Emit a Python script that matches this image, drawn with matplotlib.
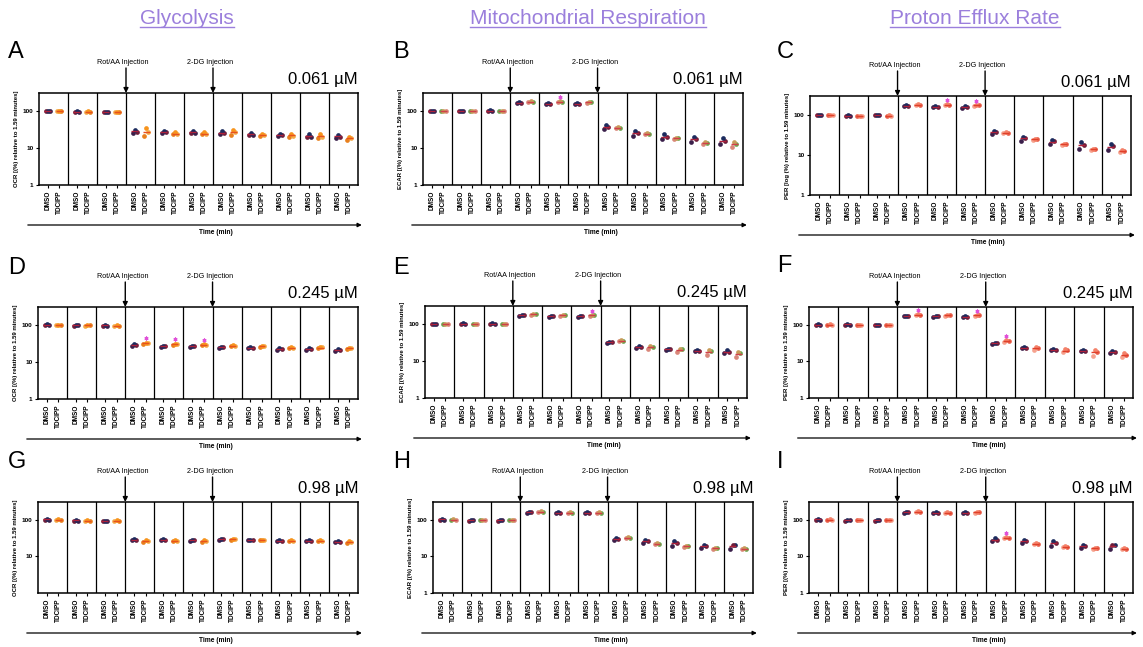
import numpy as np
import matplotlib
matplotlib.use("Agg")
import matplotlib.pyplot as plt
from matplotlib.lines import Line2D

plt.rcParams['font.family'] = ['Liberation Sans', 'DejaVu Sans']

W, H = 1143, 647

# data: 11 time points, 3 replicates each, % of first measurement
conditions = ["DMSO", "TDCIPP"]
section_titles = ["Glycolysis", "Mitochondrial Respiration", "Proton Efflux Rate"]
concentrations = ["0.061 µM", "0.245 µM", "0.98 µM"]

ocr_061_dmso = [(101, 99, 100), (96, 94, 95), (93, 91, 92), (31, 27, 25), (28, 26, 25), (28, 25, 25),
                (28, 25, 24), (25, 22, 22), (24, 22, 21), (23, 20, 20), (22, 20, 19)]
ocr_061_tdcipp = [(101, 99, 100), (96, 94, 95), (94, 92, 93), (34, 27, 21), (26, 24, 23), (26, 24, 23),
                  (31, 27, 22), (24, 22, 21), (24, 21, 20), (23, 20, 19), (20, 19, 16.5)]
ecar_061_dmso = [(101, 99, 100), (98, 96, 97), (102, 99, 100), (172, 166, 160), (160, 154, 148), (160, 154, 148),
                 (40, 37, 32), (28, 25, 20.5), (23, 20, 17), (20, 17, 14), (18, 15, 13)]
ecar_061_tdcipp = [(101, 99, 100), (98, 96, 97), (98, 96, 97), (182, 177, 172), (182, 177, 172), (175, 170, 165),
                   (37, 35, 34), (25, 24, 23), (19, 18, 17.5), (14, 13.5, 13), (14, 12.5, 10.6)]
per_061_dmso = [(101, 99, 100), (98, 96, 97), (102, 99, 100), (176, 170, 164), (166, 161, 156), (166, 160, 150),
                (41, 37, 33), (29, 26, 23), (24, 22, 18.5), (21, 18, 14.5), (18.5, 16.5, 13)]
per_061_tdcipp = [(101, 99, 100), (97, 95, 96), (98, 96, 97), (185, 181, 177), (185, 181, 177), (178, 174, 170),
                  (37, 36, 35), (25, 24.5, 24), (19, 18.4, 18), (14, 13.8, 13.5), (13.5, 12.5, 11.8)]

ocr_245_dmso = [(102, 99, 100), (98, 95, 96), (97, 94, 95), (29.5, 28, 27.5), (27.5, 26.5, 25.5), (27, 26, 25.5),
                (25.5, 24.5, 23.5), (25, 24, 23), (23.5, 22.5, 21.5), (23.5, 22.5, 21), (22, 21, 19.5)]
ocr_245_tdcipp = [(101, 99, 100), (97, 95, 96), (96, 94, 95), (33, 32, 31), (31, 30, 29), (30, 29, 28),
                  (28, 27, 26), (27, 26, 25), (25, 24, 23), (25, 24.5, 23.5), (24, 23.5, 22.5)]
ecar_245_dmso = [(101, 99, 100), (102, 99, 100), (102, 99, 100), (176, 170, 165), (162, 157, 152), (162, 157, 152),
                 (33, 32, 31), (24.5, 23.5, 22.5), (21, 20.5, 19.5), (20, 19, 18), (19.5, 17.3, 16)]
ecar_245_tdcipp = [(101, 99, 100), (98, 96, 97), (98, 96, 97), (186, 180, 175), (172, 167, 162), (172, 167, 162),
                   (36, 34.5, 33.5), (25, 23, 21), (21, 20.3, 17.3), (20, 18.3, 14.1), (17.3, 16, 12.8)]
per_245_dmso = [(101, 99, 100), (102, 99, 100), (100, 97, 98), (176, 171, 166), (172, 167, 162), (166, 161, 156),
                (32, 31, 30), (24, 23.5, 22.5), (21.5, 20.7, 20), (20, 19.4, 18.5), (19, 18, 16.5)]
per_245_tdcipp = [(101, 99, 100), (97, 95, 96), (97, 95, 96), (190, 186, 182), (183, 178, 174), (183, 178, 174),
                  (37, 35, 33), (25, 22.5, 20), (21, 20.3, 17.5), (20.3, 18.3, 14), (16.5, 15.2, 12.8)]

ocr_98_dmso = [(102, 99, 100), (96, 93, 94), (94, 91, 92), (29, 28, 27), (29, 28, 27), (28.5, 27.5, 26.5),
               (30, 29.3, 28.5), (28.5, 27.6, 27), (27, 26.4, 25.5), (27, 26.4, 25.5), (25.5, 24.8, 24)]
ocr_98_tdcipp = [(101, 99, 100), (95, 93, 94), (95, 92, 93), (27, 25.8, 24.5), (27.5, 26.4, 25.5), (27, 25.8, 24.5),
                 (30, 29.3, 28.5), (28.5, 27.6, 27), (27, 26.4, 25.5), (27, 26.4, 25.5), (25.5, 24.4, 23.5)]
ecar_98_dmso = [(102, 99, 100), (97, 94, 95), (97, 94, 95), (162, 158, 154), (159, 155, 151), (159, 155, 151),
                (31.6, 29, 28.5), (28.5, 25.6, 23), (25.6, 23, 19.5), (20.8, 18.7, 16.9), (20.8, 20.8, 15.8)]
ecar_98_tdcipp = [(101, 99, 100), (99, 96, 97), (99, 96, 97), (169, 165, 161), (159, 155, 151), (159, 155, 151),
                  (33, 31.6, 30.5), (23, 22.2, 21.5), (19.3, 18.7, 18), (17, 16.5, 16), (16.3, 15.8, 15.3)]
per_98_dmso = [(102, 99, 100), (97, 94, 95), (97, 94, 95), (162, 158, 154), (159, 155, 151), (159, 155, 151),
               (31.6, 28.5, 25.6), (28.5, 25.6, 23), (25.6, 23, 19.5), (20.8, 18.7, 16.9), (20.8, 20.8, 15.8)]
per_98_tdcipp = [(101, 99, 100), (99, 96, 97), (99, 96, 97), (169, 165, 161), (159, 155, 151), (162, 158, 154),
                 (33, 31.6, 30.5), (23, 22.2, 21.5), (18.6, 18, 17.4), (17, 16.5, 16), (16.3, 15.8, 15.3)]

# time points (0-based) with a significant TDCIPP difference
stars_B = [4]
stars_C = [4, 5]
stars_D = [3, 4, 5]
stars_E = [5]
stars_F = [3, 5, 6]
stars_I = [6]

ylabels = {
    "ocr": "OCR [(%) relative to 1.59 minutes]",
    "ecar": "ECAR [(%) relative to 1.59 minutes]",
    "per": "PER [(%) relative to 1.59 minutes]",
    "per_log": "PER [log (%) relative to 1.59 minutes]",
}

dmso_cols = ['#1c2b5e', '#6b1d3a', '#3a1f4a']
tdcipp_cols = {
    "ocr": ['#f7941d', '#f3ac4a', '#e8801e'],
    "ecar": ['#c89b5a', '#6aa84f', '#d9877a'],
    "per": ['#f4826a', '#e8604c', '#f6a38f'],
}
mean_cols = {"ocr": '#e8501e', "ecar": '#d0404a', "per": '#e0402a'}

# panel letter, box (left, top, right, bottom) in pixels, data, kind, label, conc, stars, letter pos
panels = [
    ("A", (39, 93, 358, 185), ocr_061_dmso, ocr_061_tdcipp, "ocr", "ocr", 0, [], (8, 52)),
    ("B", (423, 93, 743, 185), ecar_061_dmso, ecar_061_tdcipp, "ecar", "ecar", 0, stars_B, (393, 52)),
    ("C", (810, 96, 1131, 195), per_061_dmso, per_061_tdcipp, "per", "per_log", 0, stars_C, (777, 52)),
    ("D", (38, 307, 358, 399), ocr_245_dmso, ocr_245_tdcipp, "ocr", "ocr", 1, stars_D, (8, 268)),
    ("E", (425, 306, 747, 398), ecar_245_dmso, ecar_245_tdcipp, "ecar", "ecar", 1, stars_E, (393, 268)),
    ("F", (809, 307, 1133, 398), per_245_dmso, per_245_tdcipp, "per", "per", 1, stars_F, (777, 266)),
    ("G", (38, 502, 358, 593), ocr_98_dmso, ocr_98_tdcipp, "ocr", "ocr", 2, [], (8, 462)),
    ("H", (433, 502, 753, 593), ecar_98_dmso, ecar_98_tdcipp, "ecar", "ecar", 2, [], (393, 462)),
    ("I", (809, 502, 1133, 593), per_98_dmso, per_98_tdcipp, "per", "per", 2, stars_I, (777, 462)),
]

fig = plt.figure(figsize=(W / 100, H / 100), dpi=100)

offsets = [-0.075, 0.075, 0.0]   # low, mid, high point positions (beeswarm look)

for letter, (l, t, r, b), dmso, tdc, kind, lab, ci, stars, (lx, ly) in panels:
    ax = fig.add_axes([l / W, 1 - b / H, (r - l) / W, (b - t) / H])
    n = len(dmso)
    for i in range(n):
        for j, (vals, cols, mcol) in enumerate([(dmso[i], dmso_cols, '#b0203a'),
                                                 (tdc[i], tdcipp_cols[kind], mean_cols[kind])]):
            x0 = i + 0.3 + 0.4 * j
            order = np.argsort(vals)
            for k, idx in enumerate(order):
                ax.plot(x0 + offsets[k], vals[idx], 'o', ms=3.4, color=cols[idx], mew=0, zorder=3)
            ax.hlines(np.mean(vals), x0 - 0.12, x0 + 0.12, color=mcol, lw=1.0, zorder=4)
            if j == 1 and i in stars:
                ax.plot(x0, max(vals) * 1.3, marker=(6, 2, 0), ms=2.8, mew=0.8,
                        color='#e050d8', zorder=5)
    for i in range(1, n):
        ax.axvline(i, color='black', lw=0.9)
    ax.set_yscale('log')
    ax.set_ylim(1, 300)
    ax.set_xlim(0, n)
    if letter == "G":
        ax.set_yticks([10, 100])
    else:
        ax.set_yticks([1, 10, 100])
    ax.set_yticklabels([str(int(v)) for v in ax.get_yticks()], fontsize=4.6, fontweight='bold')
    ax.minorticks_off()
    ax.set_xticks([i + 0.3 + 0.4 * j for i in range(n) for j in range(2)])
    ax.set_xticklabels(conditions * n, rotation=90, fontsize=4.7, fontweight='bold')
    ax.tick_params(length=2, width=0.8, pad=2)
    for s in ax.spines.values():
        s.set_linewidth(1.1)
    ax.set_ylabel(ylabels[lab], fontsize=4.3, fontweight='bold', labelpad=3)

    # injection arrows
    trans = ax.get_xaxis_transform()
    for xi, txt in [(3, "Rot/AA Injection"), (6, "2-DG Injection")]:
        ax.annotate('', xy=(xi, 1.0), xycoords=trans, xytext=(0, 18), textcoords='offset points',
                    arrowprops=dict(arrowstyle='-|>', color='black', lw=1.0, mutation_scale=7,
                                    shrinkA=0, shrinkB=0), annotation_clip=False)
        ax.annotate(txt, xy=(xi, 1.0), xycoords=trans, xytext=(-2, 19.5), textcoords='offset points',
                    ha='center', va='bottom', fontsize=5.2, annotation_clip=False)

    ax.annotate(concentrations[ci], xy=(1.0, 1.0), xycoords='axes fraction', xytext=(0, 4),
                textcoords='offset points', ha='right', va='bottom', fontsize=12, annotation_clip=False)

    # time axis arrow
    bh = b - t
    ya = -40 / bh
    ax.annotate('', xy=(1.012, ya), xycoords='axes fraction', xytext=(-0.035, ya),
                arrowprops=dict(arrowstyle='-|>', color='black', lw=0.9, mutation_scale=6,
                                shrinkA=0, shrinkB=0), annotation_clip=False)
    ax.text(0.555, ya - 4 / bh, "Time (min)", transform=ax.transAxes, ha='center', va='top',
            fontsize=4.8, fontweight='bold')

    fig.text(lx / W, 1 - ly / H, letter, fontsize=17, ha='left', va='center')

# section titles with underline
renderer = fig.canvas.get_renderer()
for title, cx in zip(section_titles, [187, 588, 975]):
    t = fig.text(cx / W, 1 - 18 / H, title, fontsize=15, color='#9b7fdc', ha='center', va='center',
                 family=['Liberation Sans Narrow', 'Liberation Sans', 'DejaVu Sans'])
    bb = t.get_window_extent(renderer)
    fig.add_artist(Line2D([bb.x0 / W, bb.x1 / W], [(bb.y0 + 1) / H, (bb.y0 + 1) / H],
                          color='#9b7fdc', lw=1.0, transform=fig.transFigure))

fig.savefig("out.png", dpi=100)
